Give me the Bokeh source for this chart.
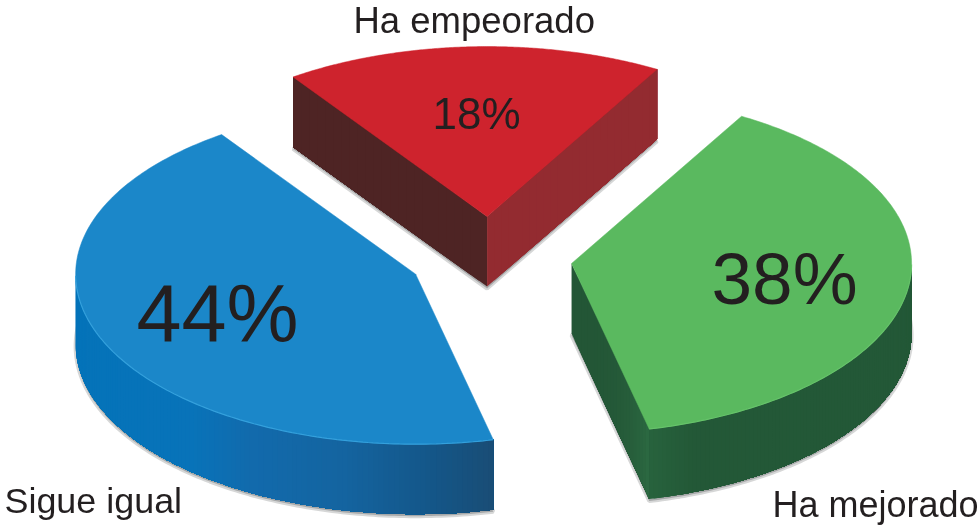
import numpy as np
from bokeh.core.properties import value
from bokeh.embed import file_html
from bokeh.models import Range1d
from bokeh.plotting import figure
from bokeh.resources import INLINE

# ---- data -----------------------------------------------------------------
categories = ["Ha mejorado", "Sigue igual", "Ha empeorado"]
shares = [38, 44, 18]
share_labels = ["38%", "44%", "18%"]

# ---- styling / projection --------------------------------------------------
CX, CY, RX, RY, DEPTH, EXPLODE = 490.0, 257.0, 340.0, 170.0, 70.0, 0.241
START_DEG = 60.0
INK = "#231f20"
FONT = value("Liberation Sans")
TOPS = ["#5ab95f", "#1b87c9", "#ce232d"]
RIMS = ["#66c36a", "#34a0dc", "#ce232d"]
# outer wall colour stops: (x in chart units, rgb)
WALL_STOPS = [
    [(640, (40, 100, 62)), (690, (35, 88, 55)), (915, (35, 88, 55))],
    [(70, (4, 115, 185)), (190, (8, 115, 185)), (250, (18, 106, 172)),
     (340, (20, 100, 160)), (430, (20, 86, 136)), (495, (26, 76, 116))],
    [(0, (147, 43, 48)), (979, (147, 43, 48))],
]
# straight cut faces: slice index, which end of the arc, colour near apex, colour near rim
CUT_FACES = [
    (0, "end", (35, 86, 54), (44, 106, 66)),
    (2, "start", (78, 36, 36), (78, 36, 36)),
    (2, "end", (147, 43, 48), (147, 43, 48)),
]
BASELINE_SHIFT = 0.39  # Bokeh's svg text sits this many font sizes below the anchor
VALUE_TEXT = [(784, 306, 73), (217, 345, 81), (476, 130, 44)]
NAME_TEXT = [(772, 518, 36), (4, 515, 35.9), (353, 34, 36.5)]

p = figure(width=979, height=527, output_backend="svg", toolbar_location=None,
           x_range=Range1d(0, 979), y_range=Range1d(527, 0),
           x_axis_location=None, y_axis_location=None, min_border=0,
           outline_line_color=None, background_fill_color="white",
           border_fill_color="white", tools="")
p.grid.visible = False
p.styles = {"position": "fixed", "left": "0", "top": "0"}


def pt(theta_deg, apex):
    t = np.radians(theta_deg)
    return apex[0] + RX * np.cos(t), apex[1] - RY * np.sin(t)


def hexrgb(c):
    return "#%02x%02x%02x" % tuple(int(round(v)) for v in c)


def wall_colour(stops, x):
    xs = [s[0] for s in stops]
    return hexrgb([np.interp(x, xs, [s[1][i] for s in stops]) for i in range(3)])


bounds = np.cumsum([0] + shares) / sum(shares) * 360.0
slices = []
for i, share in enumerate(shares):
    a0, a1 = START_DEG - bounds[i], START_DEG - bounds[i + 1]
    mid = np.radians((a0 + a1) / 2)
    apex = (CX + EXPLODE * RX * np.cos(mid), CY - EXPLODE * RY * np.sin(mid))
    ang = np.linspace(a0, a1, 180)
    ax, ay = pt(ang, apex)
    slices.append(dict(a0=a0, a1=a1, apex=apex, ang=ang, ax=ax, ay=ay,
                       tx=np.r_[apex[0], ax], ty=np.r_[apex[1], ay]))

# soft shadows beneath each slice
for s in slices:
    p.patch(s["tx"], s["ty"] + DEPTH + 2, fill_color="#6d6e71", fill_alpha=0.45,
            line_color="#6d6e71", line_alpha=0.28, line_width=4)

# straight cut faces, each strip overlapping the next so that no seams appear
for idx, end, c0, c1 in CUT_FACES:
    s = slices[idx]
    ex, ey = (s["ax"][-1], s["ay"][-1]) if end == "end" else (s["ax"][0], s["ay"][0])
    f = np.linspace(0, 1, 25)
    xs, ys, cols = [], [], []
    for a in f[:-1]:
        x0, y0 = s["apex"][0] + a * (ex - s["apex"][0]), s["apex"][1] + a * (ey - s["apex"][1])
        xs.append([x0, ex, ex, x0])
        ys.append([y0, ey, ey + DEPTH, y0 + DEPTH])
        w = a ** 3
        cols.append(hexrgb([c0[k] + w * (c1[k] - c0[k]) for k in range(3)]))
    p.patches(xs, ys, fill_color=cols, line_color=None)

# outer curved walls (front-facing part only), painted as overlapping strips
for i, s in enumerate(slices):
    vis = np.sin(np.radians(s["ang"])) <= 0
    if not vis.any():
        continue
    ax, ay = s["ax"][vis], s["ay"][vis]
    if ax[0] > ax[-1]:
        ax, ay = ax[::-1], ay[::-1]
    xs, ys, cols = [], [], []
    for j in range(len(ax) - 1):
        xs.append(np.r_[ax[j:], ax[j:][::-1]])
        ys.append(np.r_[ay[j:], ay[j:][::-1] + DEPTH])
        cols.append(wall_colour(WALL_STOPS[i], ax[j]))
    p.patches(xs, ys, fill_color=cols, line_color=None)

# top faces
for i, s in enumerate(slices):
    p.patch(s["tx"], s["ty"], fill_color=TOPS[i], line_color=TOPS[i], line_width=0.5)
    vis = np.sin(np.radians(s["ang"])) <= 0
    if vis.any():
        p.line(s["ax"][vis], s["ay"][vis], line_color=RIMS[i], line_width=1.2)

# texts
for lab, (x, y, size) in zip(share_labels, VALUE_TEXT):
    p.text([x], [y - BASELINE_SHIFT * size], text=[lab], text_font=FONT,
           text_font_size=f"{size}px", text_color=INK, text_align="center",
           text_baseline="alphabetic")
for name, (x, y, size) in zip(categories, NAME_TEXT):
    p.text([x], [y - BASELINE_SHIFT * size], text=[name], text_font=FONT,
           text_font_size=f"{size}px", text_color=INK, text_align="left",
           text_baseline="alphabetic")

open("out.html", "w").write(file_html(p, INLINE))
